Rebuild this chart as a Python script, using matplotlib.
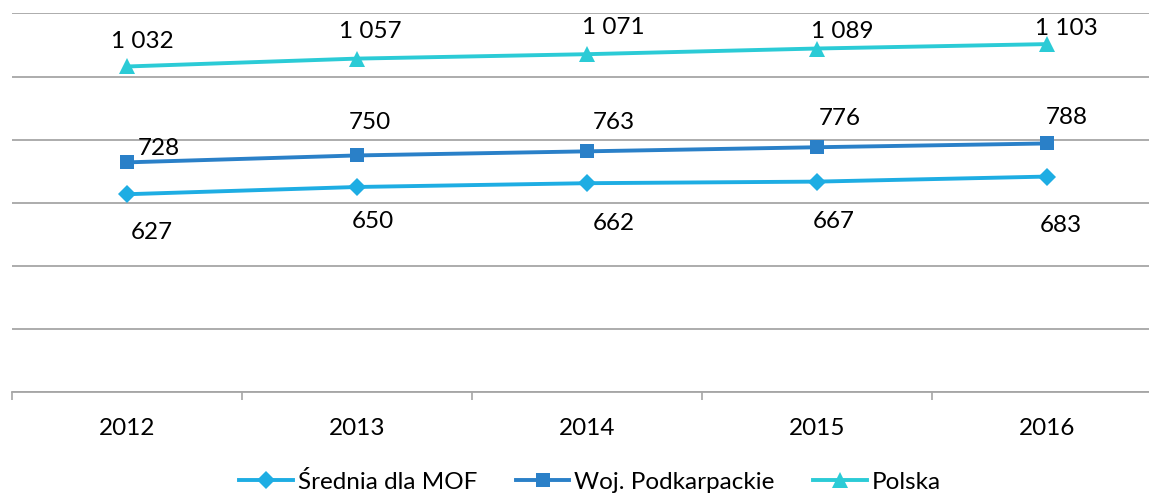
import matplotlib
matplotlib.use("Agg")
import matplotlib.pyplot as plt
from matplotlib.ticker import FixedLocator, NullFormatter

plt.rcParams['font.family'] = ['Lato', 'DejaVu Sans']

years = ["2012", "2013", "2014", "2015", "2016"]
mof = [627, 650, 662, 667, 683]
podkarpackie = [728, 750, 763, 776, 788]
polska = [1032, 1057, 1071, 1089, 1103]
series_names = ["Średnia dla MOF", "Woj. Podkarpackie", "Polska"]

# label offsets in pixels (dx, dy up)
off_mof = [(25, -38), (16, -35), (27, -40), (17, -40), (14, -49)]
off_pod = [(32, 14), (13, 33), (27, 29), (23, 29), (20, 26)]
off_pol = [(15, 25), (13, 27), (26, 27), (25, 17), (19, 16)]

W, H = 1149, 494
fig = plt.figure(figsize=(W / 100, H / 100), dpi=100)
ax = fig.add_axes([12 / W, 102 / H, 1150 / W, 378.5 / H])

x = list(range(len(years)))
styles = [
    (mof, "#1EADE3", "D", 9, off_mof),
    (podkarpackie, "#2A80C8", "s", 10, off_pod),
    (polska, "#2BCBD6", "^", 11, off_pol),
]
for (vals, col, mk, ms, offs), name in zip(styles, series_names):
    ax.plot(x, vals, color=col, lw=2.8, marker=mk, markersize=ms,
            markeredgewidth=0, label=name, clip_on=False, zorder=3)
    for xi, v, (dx, dy) in zip(x, vals, offs):
        txt = f"{v:,}".replace(",", " ")
        ax.annotate(txt, (xi, v), xytext=(dx, dy), textcoords="offset pixels",
                    ha="center", va="center", fontsize=17.5, color="#000000",
                    annotation_clip=False)

ax.set_xlim(-0.5, 4.5)
ax.set_ylim(0, 1200)
ax.set_yticks(range(0, 1201, 200))
ax.yaxis.grid(True, color="#A6A6A6", lw=1.3)
ax.set_axisbelow(True)
ax.tick_params(axis="y", length=0, labelleft=False)
ax.set_xticks(x)
ax.set_xticklabels(years, fontsize=17.5)
ax.tick_params(axis="x", which="major", length=0, pad=19)
ax.xaxis.set_minor_locator(FixedLocator([i - 0.5 for i in range(len(years) + 1)]))
ax.xaxis.set_minor_formatter(NullFormatter())
ax.tick_params(axis="x", which="minor", length=6, width=1.2, color="#A6A6A6", direction="out")
for s in ["left", "right", "top"]:
    ax.spines[s].set_visible(False)
ax.spines["bottom"].set_color("#A6A6A6")
ax.spines["bottom"].set_linewidth(1.3)

fig.legend(loc="center", bbox_to_anchor=(590 / W, 1 - 482 / H), ncol=3,
           frameon=False, fontsize=17.5, handlelength=2.2, handletextpad=0.2,
           columnspacing=1.6, borderaxespad=0, borderpad=0)

fig.savefig("out.png", dpi=100)
